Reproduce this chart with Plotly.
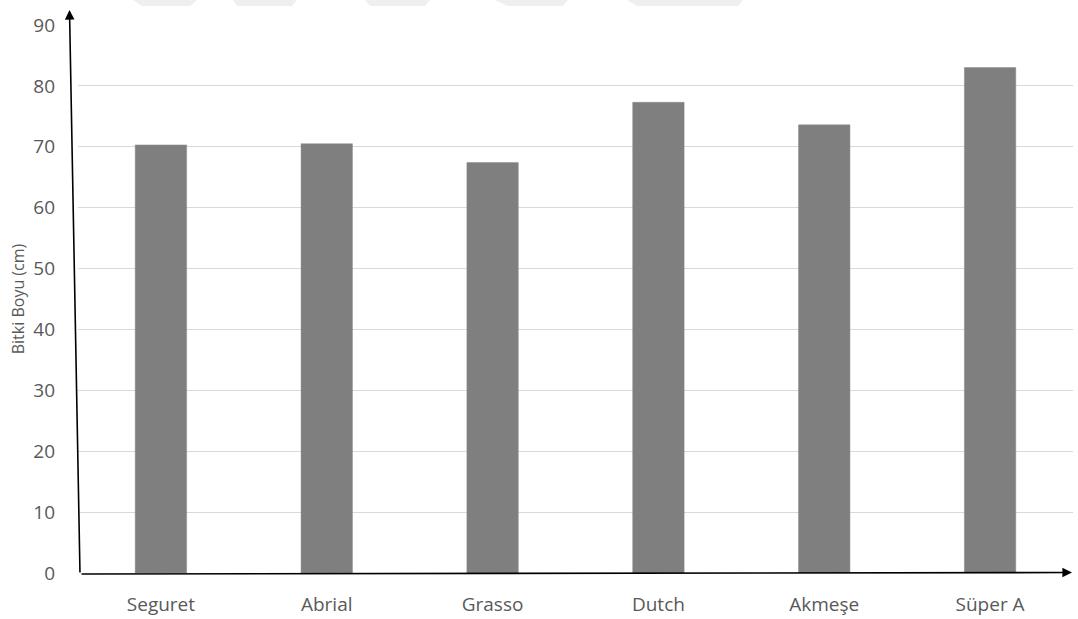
import plotly.graph_objects as go

# Plant height per variety
varieties = ["Seguret", "Abrial", "Grasso", "Dutch", "Akmeşe", "Süper A"]
heights_cm = [70.3, 70.5, 67.4, 77.3, 73.6, 83.0]
y_ticks = [0, 10, 20, 30, 40, 50, 60, 70, 80, 90]

W, H = 1078, 619
ML, MR, MT, MB = 78, 5, 25, 46
PW, PH = W - ML - MR, H - MT - MB


def px(x):
    return (x - ML) / PW


def py(y):
    return (H - MB - y) / PH


fig = go.Figure(
    go.Bar(
        x=varieties,
        y=heights_cm,
        width=0.31,
        marker=dict(color="#7f7f7f", line=dict(color="#8a8a8a", width=0.5)),
        hoverinfo="x+y",
    )
)

text_font = dict(family="Open Sans, sans-serif", size=19, color="#595959")

fig.update_layout(
    width=W,
    height=H,
    margin=dict(l=ML, r=MR, t=MT, b=MB),
    paper_bgcolor="white",
    plot_bgcolor="white",
    showlegend=False,
    bargap=0.69,
    xaxis=dict(
        showline=False,
        showgrid=False,
        zeroline=False,
        ticks="",
        tickfont=text_font,
        ticklabelstandoff=18,
        automargin=False,
    ),
    yaxis=dict(
        range=[0, 90],
        tickvals=y_ticks,
        showline=False,
        zeroline=False,
        showgrid=True,
        gridcolor="#d9d9d9",
        gridwidth=1,
        ticks="",
        tickfont=text_font,
        ticklabelstandoff=22,
        automargin=False,
        title=dict(
            text="Bitki Boyu (cm)",
            font=dict(family="Open Sans, sans-serif", size=16, color="#595959"),
            standoff=4,
        ),
    ),
)

# Hand-drawn style axes with arrowheads
fig.add_annotation(
    x=px(1072), y=py(572.5), xref="paper", yref="paper",
    ax=80 - 1072, ay=1.5, axref="pixel", ayref="pixel",
    text="", showarrow=True, arrowhead=2, arrowsize=1.2,
    arrowwidth=1.6, arrowcolor="#000000",
)
fig.add_annotation(
    x=px(69.5), y=py(10), xref="paper", yref="paper",
    ax=80 - 69.5, ay=574 - 10, axref="pixel", ayref="pixel",
    text="", showarrow=True, arrowhead=2, arrowsize=1.2,
    arrowwidth=1.6, arrowcolor="#000000",
)

# Faint banner shapes along the top edge
banners = [
    (133, 197, 142, 190),
    (233, 297, 237, 292),
    (365, 430, 370, 425),
    (495, 568, 508, 563),
    (627, 743, 637, 738),
]
for tl, tr, bl, br in banners:
    path = (
        f"M {px(tl)},{py(0)} L {px(tr)},{py(0)} "
        f"L {px(br)},{py(6)} L {px(bl)},{py(6)} Z"
    )
    fig.add_shape(
        type="path", path=path, xref="paper", yref="paper",
        fillcolor="#efefef", line=dict(width=0), layer="below",
    )

fig.write_html("out.html")
